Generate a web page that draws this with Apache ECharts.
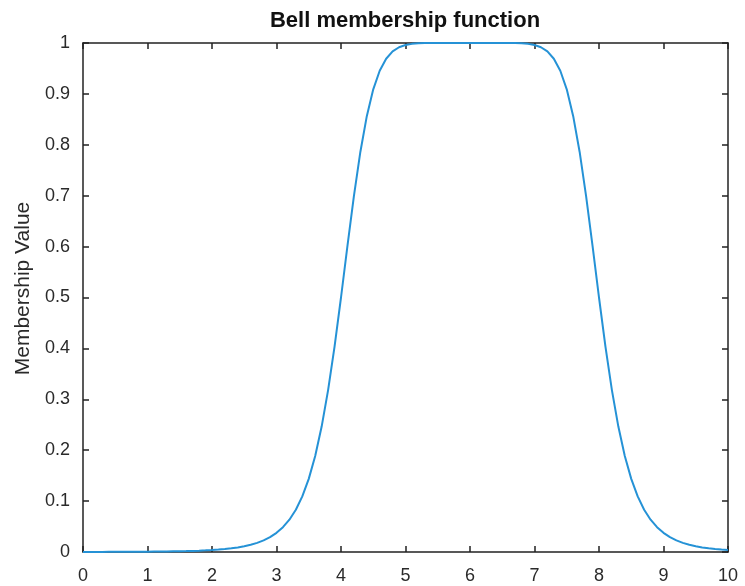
<!DOCTYPE html>
<html>
<head>
<meta charset="utf-8">
<script src="https://cdn.jsdelivr.net/npm/echarts@6/dist/echarts.min.js"></script>
<style>html,body{margin:0;padding:0;background:#fff;}#c{width:745px;height:586px;}</style>
</head>
<body>
<div id="c"></div>
<script>
var titleText = 'Bell membership function';
var yAxisName = 'Membership Value';
var xValues = [
  0.0, 0.1, 0.2, 0.3, 0.4, 0.5, 0.6, 0.7, 0.8, 0.9,
  1.0, 1.1, 1.2, 1.3, 1.4, 1.5, 1.6, 1.7, 1.8, 1.9,
  2.0, 2.1, 2.2, 2.3, 2.4, 2.5, 2.6, 2.7, 2.8, 2.9,
  3.0, 3.1, 3.2, 3.3, 3.4, 3.5, 3.6, 3.7, 3.8, 3.9,
  4.0, 4.1, 4.2, 4.3, 4.4, 4.5, 4.6, 4.7, 4.8, 4.9,
  5.0, 5.1, 5.2, 5.3, 5.4, 5.5, 5.6, 5.7, 5.8, 5.9,
  6.0,
  6.1, 6.2, 6.3, 6.4, 6.5, 6.6, 6.7, 6.8, 6.9, 7.0,
  7.1, 7.2, 7.3, 7.4, 7.5, 7.6, 7.7, 7.8, 7.9, 8.0,
  8.1, 8.2, 8.3, 8.4, 8.5, 8.6, 8.7, 8.8, 8.9, 9.0,
  9.1, 9.2, 9.3, 9.4, 9.5, 9.6, 9.7, 9.8, 9.9, 10.0
];
var membership = [
  0.0002, 0.0002, 0.0002, 0.0002, 0.0003, 0.0003, 0.0004, 0.0004, 0.0005, 0.0006,
  0.0007, 0.0008, 0.0009, 0.0011, 0.0013, 0.0015, 0.0018, 0.0022, 0.0026, 0.0032,
  0.0039, 0.0048, 0.0059, 0.0072, 0.0090, 0.0112, 0.0141, 0.0179, 0.0228, 0.0291,
  0.0376, 0.0487, 0.0635, 0.0831, 0.1092, 0.1437, 0.1887, 0.2464, 0.3181, 0.4036,
  0.5000, 0.6012, 0.6991, 0.7859, 0.8563, 0.9090, 0.9455, 0.9691, 0.9835, 0.9917,
  0.9961, 0.9983, 0.9993, 0.9998, 0.9999, 1.0, 1.0, 1.0, 1.0, 1.0,
  1.0,
  1.0, 1.0, 1.0, 1.0, 1.0, 0.9999, 0.9998, 0.9993, 0.9983, 0.9961,
  0.9917, 0.9835, 0.9691, 0.9455, 0.9090, 0.8563, 0.7859, 0.6991, 0.6012, 0.5000,
  0.4036, 0.3181, 0.2464, 0.1887, 0.1437, 0.1092, 0.0831, 0.0635, 0.0487, 0.0376,
  0.0291, 0.0228, 0.0179, 0.0141, 0.0112, 0.0090, 0.0072, 0.0059, 0.0048, 0.0039
];
var xTicks = [0, 10, 1];
var yTicks = [0, 1, 0.1];

var axisColor = '#222';
var labelColor = '#2a2a2a';
var font = '"Liberation Sans", Arial, Helvetica, sans-serif';

var chart = echarts.init(document.getElementById('c'), null, {renderer: 'canvas'});
var pts = xValues.map(function (x, i) { return [x, membership[i]]; });

function baseX(pos, showLabels) {
  return {
    type: 'value', position: pos, min: xTicks[0], max: xTicks[1], interval: xTicks[2],
    axisLine: {show: true, onZero: false, lineStyle: {color: axisColor, width: 1.5}},
    axisTick: {show: true, inside: true, length: 6, lineStyle: {color: axisColor, width: 1.5}},
    axisLabel: {show: showLabels, margin: 15, color: labelColor, fontSize: 18, fontFamily: font},
    splitLine: {show: false}
  };
}
function baseY(pos, showLabels) {
  return {
    type: 'value', position: pos, min: yTicks[0], max: yTicks[1], interval: yTicks[2],
    axisLine: {show: true, onZero: false, lineStyle: {color: axisColor, width: 1.5}},
    axisTick: {show: true, inside: true, length: 6, lineStyle: {color: axisColor, width: 1.5}},
    axisLabel: {show: showLabels, margin: 13, color: labelColor, fontSize: 18, fontFamily: font,
      formatter: function (v) { var r = Math.round(v * 10) / 10; return (r === 0 || r === 1) ? String(r) : r.toFixed(1); }},
    splitLine: {show: false}
  };
}

var yLeft = baseY('left', true);
yLeft.name = yAxisName;
yLeft.nameLocation = 'middle';
yLeft.nameGap = 44;
yLeft.nameTextStyle = {color: labelColor, fontSize: 21, fontFamily: font, padding: [0, 0, 0, 18]};

chart.setOption({
  animation: false,
  backgroundColor: '#fff',
  title: {
    text: titleText, left: 405, textAlign: 'center', top: 10, padding: 0,
    textStyle: {fontSize: 22, fontWeight: 'bold', color: '#111', fontFamily: font}
  },
  grid: {left: 83, right: 17, top: 43, bottom: 34, containLabel: false},
  xAxis: [baseX('bottom', true), baseX('top', false)],
  yAxis: [yLeft, baseY('right', false)],
  series: [{
    type: 'line', data: pts, xAxisIndex: 0, yAxisIndex: 0,
    showSymbol: false, smooth: false,
    lineStyle: {color: '#2592d6', width: 2}
  }]
});
</script>
</body>
</html>
